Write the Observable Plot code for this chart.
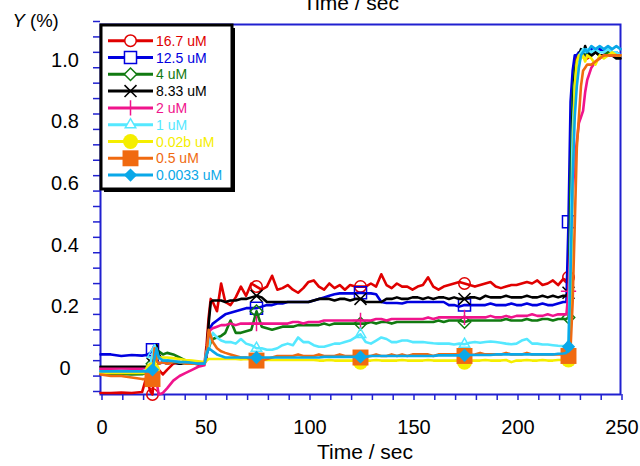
<!DOCTYPE html>
<html><head><meta charset="utf-8">
<script src="https://cdn.jsdelivr.net/npm/d3@7"></script>
<script src="https://cdn.jsdelivr.net/npm/@observablehq/plot@0.6"></script>
<style>
body{margin:0;background:#fff;font-family:Arial,"Liberation Sans",sans-serif}
#chart svg{display:block}
</style>
</head><body><div id="chart"></div>
<script>
// Time (sec)
const T = [0,5,10,15,20,22,24,
25,26,27,28,30,32,35,38,41,44,47,50,
51,52,53,54,56,58,60,
62.5,65,67.5,70,72.5,75,77.5,80,82.5,85,87.5,90,92.5,95,97.5,100,
102.5,105,107.5,110,112.5,115,117.5,120,122.5,125,127.5,130,132.5,135,137.5,140,142.5,145,147.5,150,
152.5,155,157.5,160,162.5,165,167.5,170,172.5,175,177.5,180,182.5,185,187.5,190,192.5,195,197.5,200,
202.5,205,207.5,210,212.5,215,217.5,220,222.5,
224,225,226,227,228,229,230,231,232,233,234,236,238,240,242,244,246,248,250];

const S16_7 = [-0.095,-0.095,-0.094,-0.095,-0.092,-0.045,-0.09,
-0.1,-0.005,-0.015,-0.02,-0.035,-0.02,0.0,0.005,0.0,0.002,-0.003,0.0,
0.06,0.15,0.21,0.2,0.17,0.26,0.2,
0.19,0.215,0.25,0.22,0.26,0.25,0.24,0.25,0.285,0.24,0.245,0.255,0.24,0.23,0.245,0.265,
0.27,0.25,0.24,0.26,0.245,0.255,0.24,0.255,0.25,0.25,0.25,0.26,0.25,0.29,0.255,0.245,0.26,0.25,0.25,0.24,
0.25,0.255,0.28,0.25,0.24,0.25,0.255,0.26,0.265,0.26,0.255,0.25,0.255,0.26,0.265,0.25,0.245,0.25,0.255,0.255,
0.26,0.265,0.26,0.27,0.255,0.26,0.27,0.255,0.275,
0.27,0.28,0.5,0.85,0.97,1.0,0.99,1.01,1.0,1.01,0.99,1.0,1.01,1.0,1.0,1.01,1.0,1.0,1.0];

const S12_5 = [0.03,0.03,0.025,0.028,0.026,0.028,0.035,
0.045,0.06,0.02,0.0,0.005,0.0,0.005,0.0,0.005,0.0,0.0,0.0,
0.02,0.1,0.12,0.13,0.14,0.15,0.16,
0.165,0.17,0.175,0.18,0.18,0.18,0.185,0.19,0.19,0.195,0.195,0.2,0.2,0.2,0.2,0.2,
0.205,0.21,0.215,0.22,0.225,0.228,0.228,0.228,0.228,0.23,0.228,0.228,0.225,0.2,0.197,0.197,0.197,0.195,0.2,0.2,
0.2,0.2,0.2,0.2,0.2,0.2,0.19,0.19,0.185,0.19,0.19,0.19,0.19,0.19,0.195,0.19,0.19,0.19,0.195,0.19,
0.19,0.195,0.19,0.19,0.195,0.19,0.19,0.195,0.2,
0.2,0.46,0.85,0.95,1.0,1.0,1.01,1.0,1.01,1.0,1.01,1.02,1.01,1.02,1.01,1.02,1.01,1.01,1.0];

const S4 = [-0.035,-0.035,-0.033,-0.035,-0.034,-0.03,-0.02,
0.0,0.04,0.045,0.04,0.03,0.035,0.03,0.02,0.01,0.0,0.0,0.0,
0.03,0.05,0.07,0.08,0.085,0.09,0.1,
0.14,0.1,0.1,0.105,0.11,0.17,0.12,0.115,0.11,0.115,0.12,0.12,0.12,0.125,0.125,0.125,
0.125,0.125,0.13,0.125,0.13,0.13,0.13,0.13,0.13,0.13,0.13,0.135,0.13,0.135,0.135,0.13,0.135,0.135,0.135,0.135,
0.135,0.135,0.135,0.135,0.14,0.135,0.14,0.14,0.14,0.135,0.14,0.14,0.14,0.14,0.14,0.14,0.14,0.145,0.14,0.14,
0.14,0.145,0.14,0.14,0.145,0.145,0.14,0.145,0.145,
0.145,0.15,0.6,0.86,0.95,0.98,1.0,1.0,1.0,1.01,1.0,1.0,1.01,1.0,1.0,1.01,1.0,1.0,1.0];

const S8_33 = [-0.01,-0.01,-0.01,-0.01,-0.01,-0.01,-0.01,
0.0,0.02,0.06,0.03,0.01,0.01,0.005,0.0,0.0,0.0,0.0,0.0,
0.03,0.13,0.2,0.205,0.205,0.205,0.2,
0.205,0.205,0.21,0.21,0.215,0.22,0.215,0.2,0.2,0.2,0.2,0.2,0.2,0.2,0.2,0.2,
0.205,0.21,0.21,0.21,0.205,0.21,0.21,0.205,0.21,0.21,0.2,0.2,0.2,0.2,0.21,0.21,0.215,0.21,0.21,0.215,
0.215,0.21,0.215,0.21,0.215,0.215,0.21,0.215,0.21,0.21,0.215,0.215,0.21,0.22,0.215,0.215,0.215,0.22,0.215,0.215,
0.215,0.22,0.215,0.215,0.22,0.215,0.22,0.215,0.22,
0.22,0.23,0.4,0.8,0.93,0.98,1.0,1.02,1.0,1.03,1.01,1.0,1.01,1.0,1.0,1.0,1.0,0.99,0.99];

const S2 = [-0.017,-0.017,-0.017,-0.017,-0.017,-0.017,-0.017,
-0.02,-0.03,-0.06,-0.1,-0.095,-0.08,-0.055,-0.04,-0.03,-0.02,-0.01,-0.005,
0.03,0.1,0.11,0.115,0.12,0.125,0.125,
0.13,0.125,0.13,0.13,0.13,0.13,0.13,0.13,0.13,0.13,0.13,0.13,0.135,0.135,0.13,0.135,
0.135,0.135,0.14,0.14,0.14,0.14,0.14,0.14,0.14,0.14,0.14,0.14,0.145,0.145,0.14,0.145,0.145,0.145,0.145,0.145,
0.145,0.145,0.15,0.145,0.15,0.15,0.15,0.15,0.15,0.15,0.15,0.15,0.15,0.15,0.155,0.15,0.15,0.155,0.15,0.155,
0.155,0.155,0.16,0.155,0.155,0.16,0.155,0.16,0.16,
0.16,0.235,0.4,0.55,0.66,0.72,0.78,0.8,0.82,0.88,0.92,0.96,0.98,0.99,1.0,1.0,1.0,1.0,1.0];

const S1 = [-0.025,-0.025,-0.024,-0.025,-0.025,-0.02,0.0,
0.03,0.06,0.04,0.02,0.015,0.01,0.01,0.005,0.0,0.0,0.0,0.0,
0.04,0.05,0.08,0.1,0.085,0.075,0.07,
0.07,0.065,0.08,0.065,0.06,0.05,0.05,0.045,0.045,0.05,0.06,0.065,0.06,0.085,0.07,0.07,
0.06,0.055,0.055,0.06,0.065,0.065,0.07,0.075,0.085,0.095,0.07,0.065,0.075,0.085,0.08,0.07,0.07,0.075,0.075,0.07,
0.07,0.07,0.068,0.066,0.065,0.065,0.065,0.062,0.065,0.063,0.068,0.07,0.068,0.07,0.072,0.07,0.068,0.065,0.063,0.065,
0.075,0.08,0.065,0.065,0.062,0.062,0.06,0.058,0.057,
0.057,0.058,0.4,0.75,0.9,0.97,1.0,1.01,1.02,1.01,1.02,1.01,1.02,1.01,1.01,1.02,1.01,1.01,1.0];

const S0_02b = [-0.03,-0.03,-0.03,-0.03,-0.03,-0.03,-0.03,
-0.02,0.0,0.015,0.02,0.02,0.02,0.018,0.015,0.012,0.01,0.008,0.005,
0.01,0.015,0.015,0.015,0.015,0.015,0.015,
0.015,0.015,0.014,0.015,0.014,0.012,0.012,0.012,0.012,0.012,0.012,0.012,0.012,0.012,0.012,0.012,
0.012,0.01,0.01,0.012,0.01,0.01,0.01,0.01,0.01,0.005,0.01,0.01,0.012,0.01,0.01,0.01,0.01,0.012,0.01,0.01,
0.01,0.01,0.012,0.01,0.01,0.01,0.01,0.01,0.01,0.005,0.01,0.01,0.01,0.012,0.01,0.01,0.01,0.012,0.005,0.01,
0.01,0.012,0.01,0.01,0.012,0.01,0.01,0.012,0.012,
0.012,0.012,0.2,0.6,0.9,0.98,1.0,0.99,1.0,0.98,1.0,0.99,0.97,1.0,0.99,1.0,1.01,1.0,1.0];

const S0_5 = [-0.035,-0.04,-0.04,-0.045,-0.05,-0.05,-0.05,
-0.05,0.05,0.01,0.0,0.005,0.0,0.005,0.005,0.0,0.0,0.0,0.0,
0.03,0.11,0.09,0.07,0.05,0.04,0.035,
0.03,0.025,0.02,0.02,0.015,0.01,0.01,0.015,0.02,0.025,0.025,0.025,0.025,0.03,0.025,0.025,
0.025,0.03,0.025,0.025,0.025,0.03,0.025,0.025,0.025,0.02,0.025,0.025,0.03,0.025,0.025,0.03,0.025,0.03,0.025,0.03,
0.03,0.03,0.03,0.025,0.03,0.03,0.03,0.03,0.03,0.025,0.028,0.03,0.035,0.03,0.03,0.03,0.03,0.035,0.03,0.03,
0.03,0.035,0.03,0.03,0.03,0.03,0.03,0.03,0.03,
0.03,0.025,0.05,0.2,0.45,0.7,0.8,0.9,0.95,0.96,0.97,0.97,0.98,0.99,1.0,1.0,1.0,1.0,1.0];

const S0_0033 = [-0.025,-0.025,-0.025,-0.025,-0.025,-0.025,-0.025,
-0.02,0.02,0.05,0.02,0.01,0.01,0.008,0.005,0.005,0.003,0.0,0.0,
0.03,0.05,0.045,0.04,0.03,0.025,0.02,
0.02,0.02,0.02,0.02,0.02,0.02,0.02,0.02,0.02,0.02,0.02,0.02,0.02,0.02,0.02,0.02,
0.02,0.02,0.022,0.022,0.022,0.022,0.022,0.022,0.022,0.022,0.022,0.025,0.025,0.025,0.025,0.025,0.025,0.025,0.025,0.025,
0.025,0.025,0.025,0.025,0.027,0.027,0.027,0.027,0.027,0.027,0.028,0.028,0.028,0.028,0.028,0.03,0.03,0.03,0.03,0.03,
0.03,0.03,0.03,0.03,0.03,0.03,0.03,0.032,0.033,
0.035,0.055,0.3,0.6,0.8,0.9,0.96,1.0,1.01,1.02,1.01,1.03,1.02,1.03,1.02,1.03,1.02,1.03,1.02];

const SERIES = ["16.7 uM","12.5 uM","4 uM","8.33 uM","2 uM","1 uM","0.02b uM","0.5 uM","0.0033 uM"];
const VALUES = [S16_7,S12_5,S4,S8_33,S2,S1,S0_02b,S0_5,S0_0033];
const MARKER_T = [25,75,125,175,225];

const X_TICKS = [0,50,100,150,200,250];
const X_MINOR = [0,10,20,30,40,50,60,70,80,90,100,110,120,130,140,150,160,170,180,190,200,210,220,230,240,250];
const Y_TICKS = [0,0.2,0.4,0.6,0.8,1.0];
const Y_TICK_LABELS = ["0","0.2","0.4","0.6","0.8","1.0"];
const Y_MINOR = [-0.1,-0.05,0,0.05,0.1,0.15,0.2,0.25,0.3,0.35,0.4,0.45,0.5,0.55,0.6,0.65,0.7,0.75,0.8,0.85,0.9,0.95,1.0,1.05,1.1];

// styles
const COLORS = ["#e00000","#0000e0","#117a11","#000000","#f0148c","#55e8ff","#f5ee00","#f06a10","#0aa8e8"];
const SYMBOLS = [d3.symbolCircle,d3.symbolSquare,d3.symbolDiamond2,d3.symbolTimes,d3.symbolPlus,d3.symbolTriangle2,d3.symbolCircle,d3.symbolSquare,d3.symbolDiamond2];
const FILLED = [false,false,false,false,false,false,true,true,true];
const RADII = [5.75,6.8,5.6,5.5,5,5,7.5,9,6];
const AXIS_BLUE = "#2020d0";

const marks = [Plot.frame({stroke: AXIS_BLUE, strokeWidth: 2})];
SERIES.forEach((name, k) => {
  const rows = T.map((t, i) => ({t, y: VALUES[k][i], s: name}));
  marks.push(Plot.line(rows, {x: "t", y: "y", stroke: COLORS[k], strokeWidth: 2.6, strokeLinejoin: "round"}));
  marks.push(Plot.dot(rows.filter(d => MARKER_T.includes(d.t)), {
    x: "t", y: "y", symbol: SYMBOLS[k], r: RADII[k],
    fill: FILLED[k] ? COLORS[k] : "none",
    stroke: FILLED[k] ? "none" : COLORS[k], strokeWidth: 1.5
  }));
});
marks.push(Plot.axisX({ticks: X_MINOR, tickSize: 6, stroke: AXIS_BLUE, strokeWidth: 1.5,
  tickFormat: d => X_TICKS.includes(d) ? String(d) : "", tickPadding: 19, fontSize: 20, dx: 1.5, label: null, fill: "black"}));
marks.push(Plot.axisY({ticks: Y_MINOR, tickSize: 7, stroke: AXIS_BLUE, strokeWidth: 1.5,
  tickFormat: d => { const i = Y_TICKS.findIndex(v => Math.abs(v - d) < 1e-9); return i >= 0 ? Y_TICK_LABELS[i] : ""; },
  textAnchor: "middle", tickPadding: 28.5, lineAnchor: "top", dy: -3, fontSize: 20, label: null, fill: "black"}));

const chart = Plot.plot({
  width: 640, height: 466,
  marginLeft: 100, marginRight: 20, marginTop: 24, marginBottom: 72,
  style: {fontFamily: "Arial, 'Liberation Sans', sans-serif", background: "white", overflow: "visible"},
  x: {domain: [0, 250]},
  y: {domain: [-0.1, 1.1]},
  marks
});
document.getElementById("chart").appendChild(chart);

const svg = d3.select(chart);
// axis titles
svg.append("text").attr("x", 365).attr("y", 459).attr("text-anchor", "middle")
  .attr("font-size", 21).attr("fill", "black").text("Time / sec");
svg.append("text").attr("x", 351).attr("y", 10).attr("text-anchor", "middle")
  .attr("font-size", 21).attr("fill", "black").text("Time / sec");
const yl = svg.append("text").attr("x", 12.5).attr("y", 27).attr("text-anchor", "start")
  .attr("font-size", 18.5).attr("fill", "black");
yl.append("tspan").attr("font-style", "italic").text("Y");
yl.append("tspan").text(" (%)");

// legend
const lg = svg.append("g");
lg.append("rect").attr("x", 104).attr("y", 28).attr("width", 131).attr("height", 164).attr("fill", "black");
lg.append("rect").attr("x", 101).attr("y", 25).attr("width", 131).attr("height", 164)
  .attr("fill", "white").attr("stroke", "black").attr("stroke-width", 3);
SERIES.forEach((name, k) => {
  const cy = 40.7 + 16.8 * k;
  lg.append("line").attr("x1", 108).attr("x2", 153).attr("y1", cy).attr("y2", cy)
    .attr("stroke", COLORS[k]).attr("stroke-width", 3);
  lg.append("path").attr("transform", `translate(130.5,${cy})`)
    .attr("d", d3.symbol(SYMBOLS[k], Math.PI * RADII[k] * RADII[k])())
    .attr("fill", FILLED[k] ? COLORS[k] : "white")
    .attr("stroke", FILLED[k] ? "none" : COLORS[k]).attr("stroke-width", 1.5);
  lg.append("text").attr("x", 156).attr("y", cy).attr("dy", "0.36em").attr("text-anchor", "start")
    .attr("font-size", 14).attr("fill", COLORS[k]).text(name);
});
</script>
</body></html>
